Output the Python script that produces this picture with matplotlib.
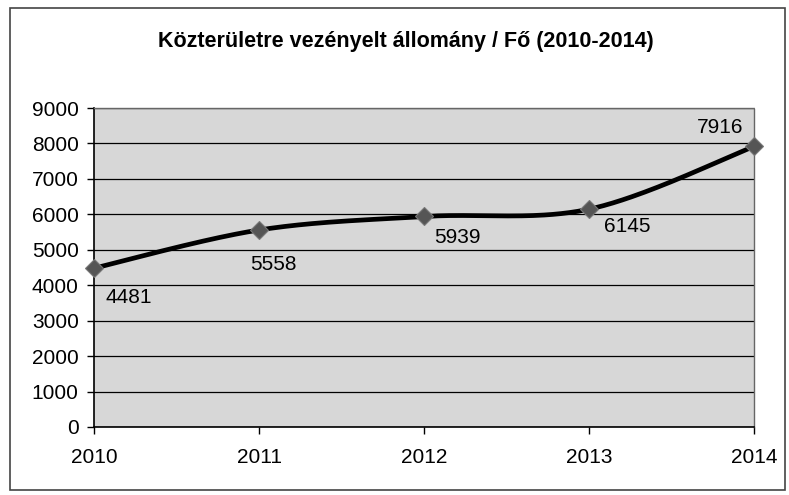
import numpy as np
import matplotlib
matplotlib.use("Agg")
import matplotlib.pyplot as plt
from matplotlib.patches import Rectangle

plt.rcParams["font.family"] = ["Liberation Sans", "DejaVu Sans"]

# ---- data ----
years = [2010, 2011, 2012, 2013, 2014]
staff = [4481, 5558, 5939, 6145, 7916]
# label offsets (pixels, right/down) as placed in the reference
label_dx = [35, 14, 33, 38, -34]
label_dy = [29, 35, 21, 17, -19]

title = "Közterületre vezényelt állomány / Fő (2010-2014)"


def smooth_curve(xs, ys, n=60):
    # Excel-like smoothed line: cubic Bezier segments with Catmull-Rom control points
    px = [xs[0]] + list(xs) + [xs[-1]]
    py = [ys[0]] + list(ys) + [ys[-1]]
    out_x, out_y = [], []
    t = np.linspace(0, 1, n)
    for i in range(1, len(px) - 2):
        x0, y0 = px[i], py[i]
        x3, y3 = px[i + 1], py[i + 1]
        x1 = x0 + (px[i + 1] - px[i - 1]) / 6
        y1 = y0 + (py[i + 1] - py[i - 1]) / 6
        x2 = x3 - (px[i + 2] - px[i]) / 6
        y2 = y3 - (py[i + 2] - py[i]) / 6
        bx = (1 - t) ** 3 * x0 + 3 * (1 - t) ** 2 * t * x1 + 3 * (1 - t) * t ** 2 * x2 + t ** 3 * x3
        by = (1 - t) ** 3 * y0 + 3 * (1 - t) ** 2 * t * y1 + 3 * (1 - t) * t ** 2 * y2 + t ** 3 * y3
        out_x.extend(bx)
        out_y.extend(by)
    return out_x, out_y


fig = plt.figure(figsize=(7.89, 4.95), dpi=100)
fig.patches.append(Rectangle((10 / 789, 5 / 495), 775 / 789, 482 / 495, transform=fig.transFigure,
                             fill=False, edgecolor="#444444", linewidth=1.2))

ax = fig.add_axes([94 / 789, 1 - 427 / 495, 660 / 789, 319 / 495])
ax.set_facecolor("#d7d7d7")

cx, cy = smooth_curve(years, staff)
ax.plot(cx, cy, color="black", linewidth=3.4, solid_capstyle="round", zorder=3)
ax.plot(years, staff, linestyle="none", marker="D", markersize=9.5,
        markerfacecolor="#555555", markeredgecolor="#777777", markeredgewidth=0.8,
        zorder=4, clip_on=False)

for x, y, dx, dy in zip(years, staff, label_dx, label_dy):
    ax.annotate(str(y), xy=(x, y), xytext=(dx * 0.72, -dy * 0.72), textcoords="offset points",
                ha="center", va="center", fontsize=15, color="black", zorder=5)

ax.set_xlim(2010, 2014)
ax.set_ylim(0, 9000)
ax.set_xticks(years)
ax.set_yticks(range(0, 9001, 1000))
ax.tick_params(axis="both", labelsize=15, direction="out", length=5, width=1, color="black")
ax.tick_params(axis="x", pad=10)
ax.tick_params(axis="y", pad=6)
ax.grid(axis="y", color="black", linewidth=0.9)
ax.set_axisbelow(True)

for side in ("left", "bottom"):
    ax.spines[side].set_color("black")
    ax.spines[side].set_linewidth(1.2)
for side in ("top", "right"):
    ax.spines[side].set_color("#666666")
    ax.spines[side].set_linestyle((0, (1, 1)))
    ax.spines[side].set_linewidth(1.0)

fig.text(0.515, 1 - 42 / 495, title, ha="center", va="center", fontsize=15.5, fontweight="bold")

fig.savefig("out.png", dpi=100)
